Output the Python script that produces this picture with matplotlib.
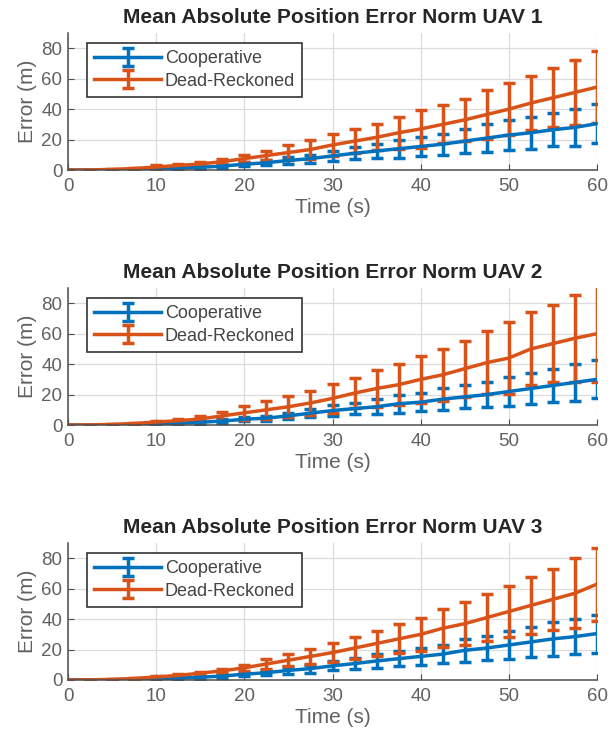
import matplotlib
matplotlib.use('Agg')
import matplotlib.pyplot as plt
import numpy as np

# sample times (s)
t = [0, 2.5, 5, 7.5, 10, 12.5, 15, 17.5, 20, 22.5, 25, 27.5, 30,
     32.5, 35, 37.5, 40, 42.5, 45, 47.5, 50, 52.5, 55, 57.5, 60]

series_names = ['Cooperative', 'Dead-Reckoned']

# UAV 1 mean error and one-sigma spread
coop1_mean = [0, 0.05, 0.2, 0.4, 0.8, 1.2, 1.8, 2.6, 3.8, 4.8, 6.3, 7.5, 9.3,
              11, 12.5, 14, 15.5, 17, 19, 21, 23, 24.5, 26.5, 28, 30.5]
coop1_err = [0, 0.05, 0.1, 0.3, 0.5, 0.8, 1.0, 1.3, 1.4, 1.8, 2.3, 2.6, 3.3,
             4, 4.5, 6, 6.5, 7, 8, 9, 10, 10.5, 11, 12, 12.8]
dr1_mean = [0, 0.1, 0.4, 1.0, 2.0, 3.0, 4.0, 5.5, 7.5, 9.5, 11.5, 13.5, 16.5,
            19, 21.5, 24.5, 27, 30, 33, 36.5, 40, 44, 47.5, 51, 54.5]
dr1_err = [0, 0.1, 0.2, 0.5, 1.0, 1.2, 1.3, 1.8, 2.5, 2.8, 5.0, 6.5, 7.0,
           8, 8.5, 10.5, 12.5, 12.5, 14, 16, 17, 18, 19.5, 21.5, 23.8]

# UAV 2
coop2_mean = [0, 0.05, 0.2, 0.4, 0.8, 1.2, 1.8, 2.6, 3.8, 4.5, 6, 7.8, 9.5,
              10.8, 12, 14, 15, 17, 18.5, 20, 22, 24, 26, 28, 30]
coop2_err = [0, 0.05, 0.1, 0.3, 0.5, 0.8, 1.0, 1.3, 1.4, 1.6, 2, 2.8, 3.5,
             3.8, 5, 6, 6, 7, 7.5, 8, 9.5, 10, 11, 12, 12.5]
dr2_mean = [0, 0.1, 0.4, 1.0, 2.0, 2.8, 4.0, 6.0, 8.0, 10, 12, 14.5, 17.5,
            21, 24, 26.5, 30, 33, 37, 41, 44, 50, 53.5, 57, 60]
dr2_err = [0, 0.1, 0.2, 0.5, 0.8, 1.2, 2.0, 2.5, 4.5, 6, 7, 8, 9.5,
           10, 12, 13.5, 15.5, 17, 18.5, 20.5, 23.5, 24, 25.5, 28.5, 32]

# UAV 3
coop3_mean = [0, 0.05, 0.2, 0.4, 0.8, 1.2, 1.8, 2.6, 3.8, 4.8, 6.3, 7.5, 9.3,
              10.8, 12.5, 14, 15.5, 17, 19.5, 21, 23, 25, 27, 28.5, 30.5]
coop3_err = [0, 0.05, 0.1, 0.3, 0.5, 0.8, 1.0, 1.3, 1.4, 1.8, 2.3, 2.6, 3,
             3.5, 4.5, 5, 5.5, 6, 7.5, 8, 9, 10, 11, 11.5, 12.5]
dr3_mean = [0, 0.1, 0.4, 1.0, 2.0, 3.0, 4.5, 6.0, 8.0, 10.5, 13, 15.5, 18,
            21, 24, 27, 30, 34, 37, 41, 45, 49, 53, 57, 63]
dr3_err = [0, 0.1, 0.2, 0.5, 0.8, 0.8, 1.0, 1.5, 2.0, 3.0, 4, 5, 6,
           7, 8, 9.5, 11, 12.5, 14, 15.5, 17, 19, 20, 23, 24]

uav_data = [
    (coop1_mean, coop1_err, dr1_mean, dr1_err),
    (coop2_mean, coop2_err, dr2_mean, dr2_err),
    (coop3_mean, coop3_err, dr3_mean, dr3_err),
]

plt.rcParams['font.family'] = ['Liberation Sans', 'DejaVu Sans']

colors = ['#0072BD', '#D95319']
label_color = '#616161'
axis_color = '#4d4d4d'

fig = plt.figure(figsize=(6.11, 7.38), dpi=100)
# left, bottom, width, height for the three stacked panels
ax_boxes = [
    [0.1113, 0.7696, 0.8658, 0.1856],
    [0.1113, 0.4241, 0.8658, 0.1856],
    [0.1113, 0.0786, 0.8658, 0.1856],
]

for k, (box, vals) in enumerate(zip(ax_boxes, uav_data)):
    ax = fig.add_axes(box)
    c_mean, c_err, d_mean, d_err = vals
    for mean, err, col, name in [(c_mean, c_err, colors[0], series_names[0]),
                                 (d_mean, d_err, colors[1], series_names[1])]:
        ax.errorbar(t, mean, yerr=err, color=col, lw=2.5, elinewidth=2.5,
                    capsize=4.5, capthick=2.5, label=name)

    ax.set_xlim(0, 60)
    ax.set_ylim(0, 90)
    ax.set_xticks([0, 10, 20, 30, 40, 50, 60])
    ax.set_yticks([0, 20, 40, 60, 80])
    ax.grid(True, color='#dcdcdc', lw=0.9)
    ax.set_axisbelow(True)
    for side in ['top', 'right']:
        ax.spines[side].set_visible(False)
    for side in ['left', 'bottom']:
        ax.spines[side].set_color(axis_color)
        ax.spines[side].set_linewidth(1.1)
    ax.tick_params(direction='in', length=4, colors=axis_color,
                   labelcolor=label_color, labelsize=13.5)
    ax.tick_params(axis='x', pad=6)
    ax.tick_params(axis='y', pad=4)
    ax.set_xlabel('Time (s)', fontsize=15, color=label_color, labelpad=2)
    ax.set_ylabel('Error (m)', fontsize=15, color=label_color, labelpad=3)
    ax.set_title('Mean Absolute Position Error Norm UAV %d' % (k + 1),
                 fontsize=15, fontweight='bold', color='#262626', pad=7)
    leg = ax.legend(loc='upper left', fontsize=13, handlelength=3.7,
                    fancybox=False, framealpha=1, edgecolor='#333333',
                    borderpad=0.4, labelspacing=0.3, handletextpad=0.2,
                    borderaxespad=0, bbox_to_anchor=(0.036, 0.927))
    leg.get_frame().set_linewidth(1.2)
    for txt in leg.get_texts():
        txt.set_color('#444444')

fig.savefig('out.png', dpi=100)
